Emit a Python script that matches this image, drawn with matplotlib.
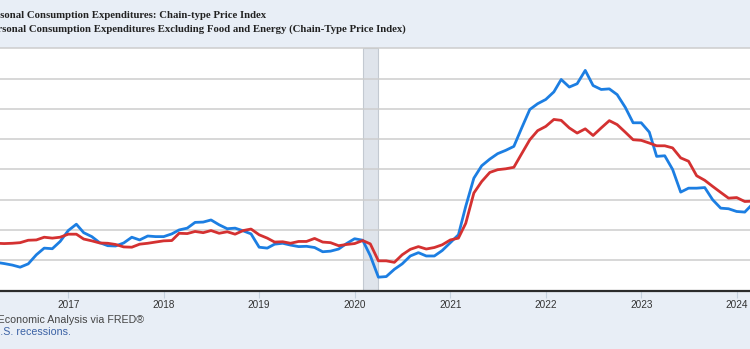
import numpy as np
import pandas as pd
import matplotlib
matplotlib.use("Agg")
import matplotlib.pyplot as plt
import matplotlib.dates as mdates

# Monthly year-over-year percent change, April 2016 through March 2024
months = pd.date_range("2016-04-01", "2024-03-01", freq="MS")

pce_headline = [
    0.93, 0.89, 0.84, 0.77, 0.88, 1.18, 1.40, 1.38, 1.62,                    # 2016 Apr-Dec
    1.98, 2.19, 1.91, 1.78, 1.58, 1.48, 1.47, 1.57, 1.76, 1.67, 1.80, 1.78,  # 2017
    1.78, 1.87, 2.00, 2.06, 2.25, 2.26, 2.33, 2.17, 2.04, 2.06, 1.97, 1.87,  # 2018
    1.43, 1.40, 1.53, 1.56, 1.50, 1.45, 1.46, 1.42, 1.28, 1.30, 1.37, 1.55,  # 2019
    1.71, 1.66, 1.15, 0.44, 0.46, 0.70, 0.88, 1.14, 1.25, 1.14, 1.14, 1.32,  # 2020
    1.58, 1.84, 2.78, 3.71, 4.12, 4.34, 4.52, 4.63, 4.76, 5.37, 5.98, 6.17,  # 2021
    6.31, 6.56, 6.97, 6.72, 6.83, 7.27, 6.77, 6.64, 6.66, 6.47, 6.05, 5.54,  # 2022
    5.54, 5.23, 4.43, 4.45, 4.00, 3.25, 3.38, 3.38, 3.40, 3.00, 2.72, 2.70,  # 2023
    2.61, 2.59, 2.85,                                                        # 2024 Jan-Mar
]

pce_core = [
    1.56, 1.55, 1.56, 1.58, 1.66, 1.67, 1.76, 1.73, 1.76,                    # 2016 Apr-Dec
    1.86, 1.86, 1.70, 1.64, 1.57, 1.56, 1.52, 1.44, 1.43, 1.53, 1.56, 1.60,  # 2017
    1.64, 1.65, 1.89, 1.88, 1.95, 1.91, 1.98, 1.89, 1.94, 1.86, 1.98, 2.03,  # 2018
    1.84, 1.73, 1.60, 1.61, 1.56, 1.62, 1.62, 1.72, 1.60, 1.58, 1.48, 1.52,  # 2019
    1.55, 1.65, 1.54, 0.98, 0.98, 0.93, 1.18, 1.36, 1.45, 1.37, 1.42, 1.51,  # 2020
    1.67, 1.73, 2.22, 3.22, 3.60, 3.90, 3.99, 4.02, 4.07, 4.52, 4.98, 5.28,  # 2021
    5.42, 5.65, 5.62, 5.37, 5.20, 5.34, 5.12, 5.37, 5.61, 5.48, 5.23, 4.98,  # 2022
    4.96, 4.87, 4.78, 4.78, 4.71, 4.38, 4.27, 3.79, 3.64, 3.44, 3.24, 3.05,  # 2023
    3.07, 2.94, 2.95,                                                        # 2024 Jan-Mar
]

series_names = [
    "Personal Consumption Expenditures: Chain-type Price Index",
    "Personal Consumption Expenditures Excluding Food and Energy (Chain-Type Price Index)",
]
recession = ("2020-02-01", "2020-04-01")
y_gridlines = [0, 1, 2, 3, 4, 5, 6, 7, 8]

BG = "#e8eef6"
BLUE = "#1c7ee2"
RED = "#d43131"
W, H = 750, 349

fig = plt.figure(figsize=(W / 100, H / 100), dpi=100, facecolor=BG)
ax = fig.add_axes([0, (H - 290.5) / H, 1, (290.5 - 48.3) / H])
ax.set_facecolor("white")

ax.axvspan(pd.Timestamp(recession[0]), pd.Timestamp(recession[1]),
           facecolor="#dfe4eb", edgecolor="#c3c9d1", lw=0.8, zorder=0.5)
for v in y_gridlines[1:]:
    ax.axhline(v, color="#cdcdcd", lw=1.1, zorder=1, clip_on=False)

ax.plot(months, pce_headline, color=BLUE, lw=2.0, zorder=3, solid_joinstyle="round")
ax.plot(months, pce_core, color=RED, lw=2.0, zorder=4, solid_joinstyle="round")

ax.set_ylim(y_gridlines[0], y_gridlines[-1])
ax.set_xlim(pd.Timestamp("2016-04-15"), pd.Timestamp("2024-02-21"))

for side in ("top", "left", "right"):
    ax.spines[side].set_visible(False)
ax.spines["bottom"].set_color("#2b2b2b")
ax.spines["bottom"].set_linewidth(1.6)

ax.set_yticks([])
ax.xaxis.set_major_locator(mdates.YearLocator())
ax.xaxis.set_major_formatter(mdates.DateFormatter("%Y"))
ax.tick_params(axis="x", direction="out", length=5, width=0.8, color="#c5d2df",
               pad=1.5, labelsize=7.2, labelcolor="#333333")
for lab in ax.get_xticklabels():
    lab.set_fontfamily("Liberation Sans")

# Series titles (legend text) in the header band
fig.text(266 / W, 1 - 16 / H, series_names[0], ha="right", va="center",
         family="Liberation Serif", weight="bold", fontsize=7.72, color="#222222")
fig.text(406 / W, 1 - 29.3 / H, series_names[1], ha="right", va="center",
         family="Liberation Serif", weight="bold", fontsize=7.72, color="#222222")

# Footer
fig.text(143.5 / W, 1 - 320 / H, "Source: U.S. Bureau of Economic Analysis via FRED®",
         ha="right", va="center", family="Liberation Sans", fontsize=7.65, color="#444444")
fig.text(70.7 / W, 1 - 331.7 / H, "Shaded areas indicate U.S. recessions.",
         ha="right", va="center", family="Liberation Sans", fontsize=7.65, color="#3b62a5")

fig.savefig("out.png", dpi=100, facecolor=BG)
